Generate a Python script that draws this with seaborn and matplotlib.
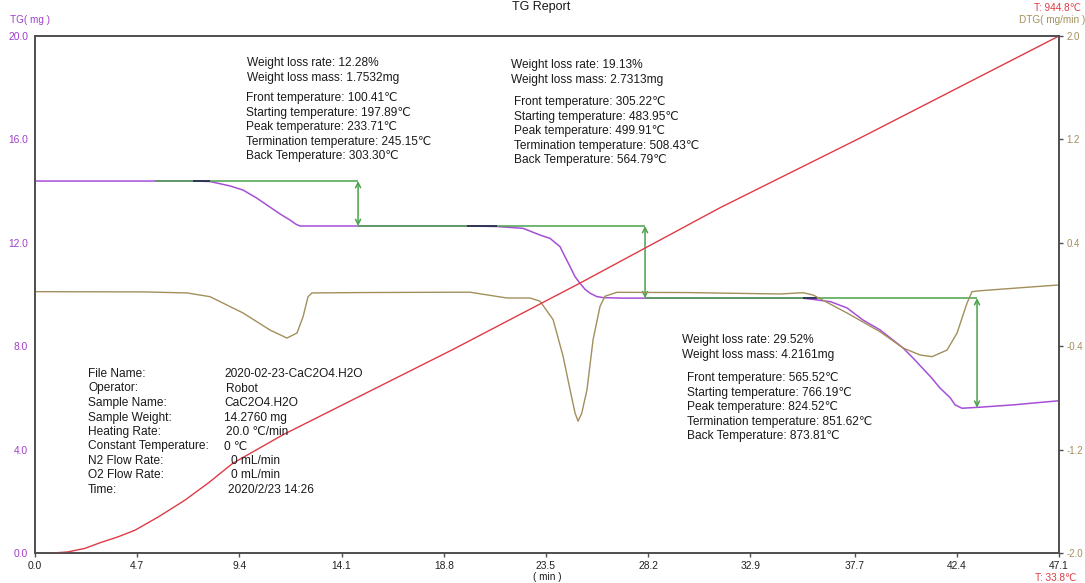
import numpy as np
import pandas as pd
import seaborn as sns
import matplotlib.pyplot as plt

# ---- data ----
x_ticks = [0.0, 4.7, 9.4, 14.1, 18.8, 23.5, 28.2, 32.9, 37.7, 42.4, 47.1]
tg_ticks = [0.0, 4.0, 8.0, 12.0, 16.0, 20.0]
dtg_ticks = [-2.0, -1.2, -0.4, 0.4, 1.2, 2.0]
t_min, t_max = 33.8, 944.8

tg_time = [0, 5.5, 7.3, 8.05, 8.97, 9.57, 10.2, 10.81, 11.3, 11.73, 12.0, 12.19, 15.0, 19.9, 21.25, 22.45,
           23.23, 23.69, 24.15, 24.38, 24.61, 24.84, 25.07, 25.3, 25.53, 25.84, 26.13, 27.0,
           30.0, 35.3, 35.79, 36.6, 37.35, 38.09, 38.87, 39.93, 40.39, 41.2, 41.63, 42.1,
           42.32, 42.64, 43.47, 44.99, 47.1]
tg_mass = [14.39, 14.39, 14.39, 14.37, 14.2, 14.04, 13.73, 13.38, 13.1, 12.88, 12.72, 12.65, 12.65, 12.65, 12.63, 12.56,
           12.30, 12.17, 11.85, 11.46, 11.08, 10.69, 10.43, 10.20, 10.05, 9.92, 9.88, 9.86,
           9.86, 9.86, 9.81, 9.72, 9.48, 9.01, 8.63, 7.93, 7.54, 6.81, 6.38, 6.00,
           5.73, 5.60, 5.64, 5.73, 5.89]

dtg_time = [0, 5.0, 7.0, 8.05, 9.57, 10.81, 11.59, 12.05, 12.33, 12.56, 12.74, 15.0, 20.0,
            21.7, 22.77, 23.23, 23.83, 24.29, 24.61, 24.84, 24.98, 25.15, 25.39, 25.67,
            25.99, 26.22, 26.77, 30.0, 34.27, 35.33, 35.79, 37.35, 38.87, 39.93, 40.71, 41.26,
            41.95, 42.41, 42.87, 43.10, 43.47, 44.99, 47.1]
dtg_value = [0.022, 0.02, 0.012, -0.017, -0.143, -0.275, -0.337, -0.298, -0.172, -0.017, 0.012, 0.015, 0.018,
             -0.027, -0.027, -0.052, -0.194, -0.478, -0.736, -0.917, -0.98, -0.917, -0.736, -0.349,
             -0.091, -0.013, 0.017, 0.015, 0.004, 0.014, -0.004, -0.143, -0.288, -0.414, -0.468, -0.481,
             -0.43, -0.298, -0.066, 0.022, 0.029, 0.048, 0.074]

temp_time = [0.8, 1.5, 2.3, 3.0, 3.8, 4.6, 5.7, 6.9, 8.0, 9.1, 11.4, 16.6, 19.2, 25.0, 31.5, 38.0, 47.1]
temp_value = [33.8, 35.6, 42.0, 52.0, 62.0, 74.0, 98.0, 127.0, 158.0, 192.0, 242.0, 342.0, 392.0, 508.0, 642.0, 766.0, 944.8]

# weight-loss steps: levels and where the arrows sit
step_levels = [14.39, 12.65, 9.86, 5.62]
step_arrow_x = [14.86, 28.06, 43.33]
step_line_start = [5.5, 14.86, 28.06]
onset_marks = [(7.27, 8.05, 14.39), (19.87, 21.25, 12.65), (35.33, 35.97, 9.86)]

step_rate = ['12.28%', '19.13%', '29.52%']
step_mass = ['1.7532mg', '2.7313mg', '4.2161mg']
front_t = ['100.41', '305.22', '565.52']
start_t = ['197.89', '483.95', '766.19']
peak_t = ['233.71', '499.91', '824.52']
term_t = ['245.15', '508.43', '851.62']
back_t = ['303.30', '564.79', '873.81']

info_labels = ['File Name:', 'Operator:', 'Sample Name:', 'Sample Weight:', 'Heating Rate:',
               'Constant Temperature:', 'N2 Flow Rate:', 'O2 Flow Rate:', 'Time:']
info_values = ['2020-02-23-CaC2O4.H2O', 'Robot', 'CaC2O4.H2O', '14.2760 mg', '20.0 \u2103/min',
               '0 \u2103', '0 mL/min', '0 mL/min', '2020/2/23 14:26']

# ---- style ----
sns.set_theme(style='white')
plt.rcParams['font.family'] = ['Liberation Sans', 'DejaVu Sans']

purple = '#a64fd6'
purple_txt = '#a040c8'
olive = '#a38f5c'
red = '#e03a45'
green = '#4aa24a'
spine_c = '#505050'
W, H = 1085, 583

fig = plt.figure(figsize=(W / 100, H / 100), dpi=100)
ax = fig.add_axes([35 / W, 1 - 553 / H, 1024 / W, 517 / H])
ax_dtg = ax.twinx()
ax_t = ax.twinx()

tg_df = pd.DataFrame({'time': tg_time, 'mass': tg_mass})
dtg_df = pd.DataFrame({'time': dtg_time, 'dtg': dtg_value})
temp_df = pd.DataFrame({'time': temp_time, 'temp': temp_value})

sns.lineplot(data=tg_df, x='time', y='mass', ax=ax, color=purple, lw=1.1,
             sort=False, estimator=None)

# step markers
for i in range(3):
    ax.hlines(step_levels[i], step_line_start[i], step_arrow_x[i], color=green, lw=1.1, zorder=3)
    ax.annotate('', xy=(step_arrow_x[i], step_levels[i + 1]), xytext=(step_arrow_x[i], step_levels[i]),
                arrowprops=dict(arrowstyle='<->', color=green, lw=1.1, shrinkA=0, shrinkB=0,
                                mutation_scale=9), zorder=3)
for x0, x1, lvl in onset_marks:
    ax.hlines(lvl, x0, x1, color='#2e2e55', lw=1.3, zorder=4)

sns.lineplot(data=dtg_df, x='time', y='dtg', ax=ax_dtg, color=olive, lw=1.0,
             sort=False, estimator=None)
sns.lineplot(data=temp_df, x='time', y='temp', ax=ax_t, color=red, lw=1.0,
             sort=False, estimator=None)

ax.set_xlim(0, 47.1)
ax.set_ylim(0, 20)
ax_dtg.set_ylim(-2, 2)
ax_t.set_ylim(t_min, t_max)

ax.set_xticks(x_ticks)
ax.set_xticklabels(['%.1f' % v for v in x_ticks])
ax.set_yticks(tg_ticks)
ax.set_yticklabels(['%.1f' % v for v in tg_ticks])
ax_dtg.set_yticks(dtg_ticks)
ax_dtg.set_yticklabels(['%.1f' % v for v in dtg_ticks])
ax_t.set_yticks([])

for a in (ax, ax_dtg, ax_t):
    a.set_xlabel('')
    a.set_ylabel('')
    for s in a.spines.values():
        s.set_color(spine_c)
        s.set_linewidth(1.1)

ax.tick_params(axis='x', direction='out', length=3, width=1, color=spine_c, pad=3,
               labelsize=7.4, labelcolor='#222222', bottom=True)
ax.tick_params(axis='y', length=0, pad=5, labelsize=7.4, labelcolor=purple_txt)
ax_dtg.tick_params(axis='y', direction='out', length=3, width=1, color=spine_c, pad=2.5,
                   labelsize=7.0, labelcolor=olive, right=True)


def px_text(x, y, s, **kw):
    kw.setdefault('fontsize', 8.6)
    kw.setdefault('color', '#1a1a1a')
    fig.text(x / W, 1 - y / H, s, va='center', **kw)


# headers and axis captions
fig.text(541 / W, 1 - 1 / H, 'TG Report', ha='center', va='top', fontsize=9, color='#1a1a1a')
px_text(10, 20, 'TG( mg )', fontsize=7.2, color=purple_txt)
px_text(1085, 20, 'DTG( mg/min )', fontsize=7.2, color=olive, ha='right')
px_text(1081, 8, 'T: 944.8\u2103', fontsize=7.2, color=red, ha='right')
px_text(1076, 578, 'T: 33.8\u2103', fontsize=7.2, color=red, ha='right')
px_text(547, 577, '( min )', fontsize=7.2, ha='center')

# step annotation blocks
blocks = [(247, 63, 246, 98), (511, 65, 514, 102), (682, 340, 687, 378)]
for i, (xa, ya, xb, yb) in enumerate(blocks):
    px_text(xa, ya, 'Weight loss rate: ' + step_rate[i])
    px_text(xa, ya + 15, 'Weight loss mass: ' + step_mass[i])
    rows = ['Front temperature: ' + front_t[i] + '\u2103',
            'Starting temperature: ' + start_t[i] + '\u2103',
            'Peak temperature: ' + peak_t[i] + '\u2103',
            'Termination temperature: ' + term_t[i] + '\u2103',
            'Back Temperature: ' + back_t[i] + '\u2103']
    for j, r in enumerate(rows):
        px_text(xb, yb + 14.6 * j, r)

# sample info block
value_x = [224, 226, 224, 224, 226, 224, 231, 231, 228]
for i, (lab, val) in enumerate(zip(info_labels, info_values)):
    y = 374 + 14.5 * i
    px_text(88, y, lab)
    px_text(value_x[i], y, val)

fig.savefig('out.png', dpi=100)
